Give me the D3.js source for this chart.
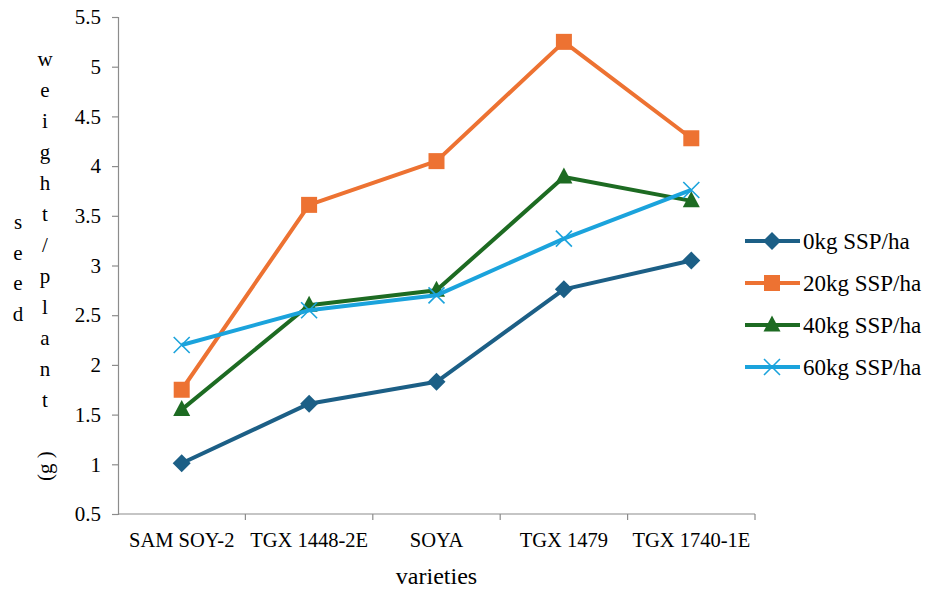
<!DOCTYPE html>
<html>
<head>
<meta charset="utf-8">
<script src="https://cdn.jsdelivr.net/npm/d3@7"></script>
<style>
  body { margin: 0; background: #fff; }
</style>
</head>
<body>
<div id="container"></div>
<script>
'use strict';

const width = 935,
      height = 590,
      margin = {top: 17, bottom: 76, right: 180, left: 118};

const serif = "'Liberation Serif', 'Times New Roman', Times, 'DejaVu Serif', serif";

// chart values
const varieties = ["SAM SOY-2", "TGX 1448-2E", "SOYA", "TGX 1479", "TGX 1740-1E"];
const seriesNames = ["0kg SSP/ha", "20kg SSP/ha", "40kg SSP/ha", "60kg SSP/ha"];
const ssp0 = [1.01, 1.61, 1.83, 2.76, 3.05];
const ssp20 = [1.75, 3.61, 4.05, 5.25, 4.28];
const ssp40 = [1.55, 2.60, 2.75, 3.89, 3.65];
const ssp60 = [2.20, 2.55, 2.70, 3.27, 3.76];
const yTicks = [0.5, 1, 1.5, 2, 2.5, 3, 3.5, 4, 4.5, 5, 5.5];
const yTitleA = "seed";
const yTitleB = "weight/plant";
const yTitleC = "(g )";
const xTitle = "varieties";

const colors = ["#1c5f86", "#ed7232", "#1d6b22", "#1ba3dc"];
const symbols = ["diamond", "square", "triangle", "cross"];

const series = [ssp0, ssp20, ssp40, ssp60].map((vals, i) => ({
  name: seriesNames[i],
  color: colors[i],
  symbol: symbols[i],
  values: vals.map((v, j) => ({cat: varieties[j], v: v}))
}));

const svg = d3.select("#container")
  .append("svg")
  .attr("width", width)
  .attr("height", height)
  .style("font-family", serif);

const xScale = d3.scaleBand()
  .domain(varieties)
  .range([margin.left, 755]);

const yScale = d3.scaleLinear()
  .domain([0.5, 5.5])
  .range([height - margin.bottom, margin.top]);

const axisColor = "#8c8c8c";

// y axis
const yAxis = d3.axisLeft(yScale)
  .tickValues(yTicks)
  .tickFormat(d3.format(""))
  .tickSize(6)
  .tickPadding(11);

const gy = svg.append("g")
  .attr("transform", `translate(${margin.left},0)`)
  .call(yAxis);
gy.attr("font-family", null);
gy.select(".domain").attr("stroke", axisColor).attr("stroke-width", 1.2);
gy.selectAll(".tick line").attr("stroke", axisColor).attr("stroke-width", 1.2);
gy.selectAll(".tick text")
  .style("font-family", serif)
  .attr("font-size", 21)
  .attr("fill", "#000");

// x axis: labels at centers, ticks at band edges
const xAxis = d3.axisBottom(xScale).tickSize(0).tickPadding(18);
const gx = svg.append("g")
  .attr("transform", `translate(0,${yScale(0.5)})`)
  .call(xAxis);
gx.attr("font-family", null);
gx.select(".domain").remove();
gx.selectAll(".tick text")
  .style("font-family", serif)
  .attr("font-size", 20.5)
  .attr("fill", "#000");

const edges = varieties.map(d => xScale(d)).concat([xScale.range()[1]]);
svg.append("line")
  .attr("x1", xScale.range()[0])
  .attr("x2", xScale.range()[1])
  .attr("y1", yScale(0.5))
  .attr("y2", yScale(0.5))
  .attr("stroke", axisColor)
  .attr("stroke-width", 1.2);
svg.selectAll(".xedge")
  .data(edges.slice(1))
  .join("line")
  .attr("class", "xedge")
  .attr("x1", d => d)
  .attr("x2", d => d)
  .attr("y1", yScale(0.5))
  .attr("y2", yScale(0.5) + 6)
  .attr("stroke", axisColor)
  .attr("stroke-width", 1.2);

// axis titles
svg.append("text")
  .attr("x", (xScale.range()[0] + xScale.range()[1]) / 2)
  .attr("y", 584)
  .attr("text-anchor", "middle")
  .attr("font-size", 24)
  .text(xTitle);

svg.append("g").selectAll("text")
  .data(yTitleA.split(""))
  .join("text")
  .attr("x", 18)
  .attr("y", (d, i) => 229 + i * 30.5)
  .attr("text-anchor", "middle")
  .attr("font-size", 21)
  .text(d => d);

svg.append("g").selectAll("text")
  .data(yTitleB.split(""))
  .join("text")
  .attr("x", 45)
  .attr("y", (d, i) => 66 + i * 31)
  .attr("text-anchor", "middle")
  .attr("font-size", 21)
  .text(d => d);

svg.append("text")
  .attr("transform", "translate(52,466) rotate(-90)")
  .attr("text-anchor", "middle")
  .attr("font-size", 21)
  .text(yTitleC);

// markers
function drawMarker(g, type, color, cx, cy) {
  if (type === "diamond") {
    const r = 9;
    g.append("path")
      .attr("d", `M${cx},${cy - r}L${cx + r},${cy}L${cx},${cy + r}L${cx - r},${cy}Z`)
      .attr("fill", color);
  } else if (type === "square") {
    const s = 16;
    g.append("rect")
      .attr("x", cx - s / 2).attr("y", cy - s / 2)
      .attr("width", s).attr("height", s)
      .attr("fill", color);
  } else if (type === "triangle") {
    const w = 17, h = 16;
    g.append("path")
      .attr("d", `M${cx},${cy - h * 0.6}L${cx + w / 2},${cy + h * 0.4}L${cx - w / 2},${cy + h * 0.4}Z`)
      .attr("fill", color);
  } else {
    const r = 8;
    g.append("path")
      .attr("d", `M${cx - r},${cy - r}L${cx + r},${cy + r}M${cx - r},${cy + r}L${cx + r},${cy - r}`)
      .attr("stroke", color)
      .attr("stroke-width", 1.6)
      .attr("fill", "none");
  }
}

const xPos = d => xScale(d) + xScale.bandwidth() / 2;

const line = d3.line()
  .x(d => xPos(d.cat))
  .y(d => yScale(d.v));

series.forEach(s => {
  const g = svg.append("g");
  g.append("path")
    .datum(s.values)
    .attr("d", line)
    .attr("fill", "none")
    .attr("stroke", s.color)
    .attr("stroke-width", 4)
    .attr("stroke-linejoin", "round");
  s.values.forEach(d => drawMarker(g, s.symbol, s.color, xPos(d.cat), yScale(d.v)));
});

// legend
const legend = svg.append("g");
series.forEach((s, i) => {
  const ly = 241 + i * 42;
  const g = legend.append("g");
  g.append("line")
    .attr("x1", 745).attr("x2", 800)
    .attr("y1", ly).attr("y2", ly)
    .attr("stroke", s.color)
    .attr("stroke-width", 4);
  drawMarker(g, s.symbol, s.color, 772, ly);
  g.append("text")
    .attr("x", 803)
    .attr("y", ly + 8)
    .attr("font-size", 23)
    .text(s.name);
});
</script>
</body>
</html>
